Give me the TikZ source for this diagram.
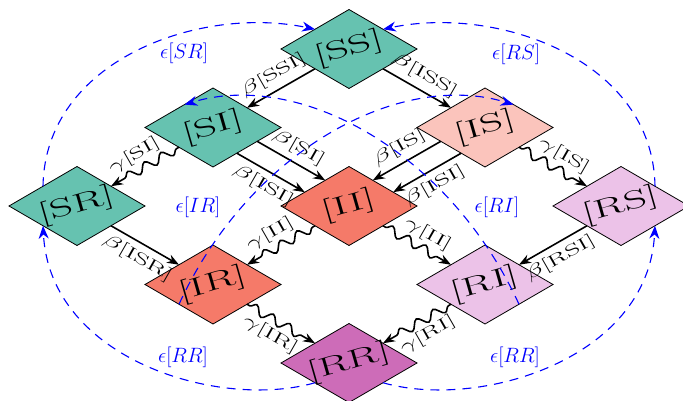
\documentclass[tikz,border=0pt]{standalone}
\usetikzlibrary{shapes.geometric,arrows.meta,decorations.pathmorphing,calc}
\definecolor{cS}{RGB}{102,194,176}
\definecolor{cIS}{RGB}{251,196,188}
\definecolor{cI}{RGB}{245,122,105}
\definecolor{cR}{RGB}{236,194,232}
\definecolor{cRR}{RGB}{205,108,184}
\newcommand\edgetxt[1]{\scalebox{1.75}[1]{#1}}
\newcommand\boxtxt[1]{\scalebox{1.75}[1]{#1}}
\tikzset{
  st/.style={diamond, draw=black, line width=0.8pt, minimum width=136pt, minimum height=79pt, inner sep=0pt, outer sep=0pt},
  dtext/.style={rotate=16, font=\fontsize{26}{26}\selectfont, inner sep=0pt},
  elab/.style={sloped, font=\fontsize{16.5}{16.5}\selectfont, inner sep=6pt},
  bedge/.style={line width=1.6pt, -{Stealth[length=12pt,width=9pt]}},
  wedge/.style={line width=1.6pt, -{Stealth[length=12pt,width=9pt]}, decorate,
    decoration={snake, amplitude=4.5pt, segment length=19pt, pre length=3pt, post length=11pt}},
  epsedge/.style={blue, dash pattern=on 9pt off 7pt, line width=1.1pt, -{Stealth[length=13pt,width=10pt]}},
  epslab/.style={blue, font=\fontsize{20}{20}\selectfont, inner sep=0pt}
}
\begin{document}
\begin{tikzpicture}[x=1pt,y=-1pt]
\useasboundingbox (0,0) rectangle (683,401);
% states
\node[st, fill=cS]  (SS) at (349,49) {};
\node[st, fill=cS]  (SI) at (213,127.5) {};
\node[st, fill=cIS] (IS) at (485,127.5) {};
\node[st, fill=cS]  (SR) at (77,206) {};
\node[st, fill=cI]  (II) at (349,206) {};
\node[st, fill=cR]  (RS) at (621,206) {};
\node[st, fill=cI]  (IR) at (213,284.5) {};
\node[st, fill=cR]  (RI) at (485,284.5) {};
\node[st, fill=cRR] (RR) at (349,363) {};
\node[dtext] (tSS) at (SS) {\boxtxt{[SS]}};
\node[dtext] (tSI) at (SI) {\boxtxt{[SI]}};
\node[dtext] (tIS) at (IS) {\boxtxt{[IS]}};
\node[dtext] (tSR) at (SR) {\boxtxt{[SR]}};
\node[dtext] (tII) at (II) {\boxtxt{[II]}};
\node[dtext] (tRS) at (RS) {\boxtxt{[RS]}};
\node[dtext] (tIR) at (IR) {\boxtxt{[IR]}};
\node[dtext] (tRI) at (RI) {\boxtxt{[RI]}};
\node[dtext] (tRR) at (RR) {\boxtxt{[RR]}};
% infection edges
\draw[bedge] ($(SS.west)!0.5!(SS.south)$) -- node[elab, above] (l1) {\edgetxt{$\beta$[SSI]}} ($(SI.north)!0.5!(SI.east)$);
\draw[bedge] ($(SS.east)!0.5!(SS.south)$) -- node[elab, above] (l2) {\edgetxt{$\beta$[ISS]}} ($(IS.north)!0.5!(IS.west)$);
\draw[bedge] ($(SI.east)!0.35!(SI.south)$) -- node[elab, above] (l3) {\edgetxt{$\beta$[SI]}} ($(II.west)!0.65!(II.north)$);
\draw[bedge] ($(SI.east)!0.65!(SI.south)$) -- node[elab, below] (l4) {\edgetxt{$\beta$[ISI]}} ($(II.west)!0.35!(II.north)$);
\draw[bedge] ($(IS.west)!0.35!(IS.south)$) -- node[elab, above] (l5) {\edgetxt{$\beta$[IS]}} ($(II.east)!0.65!(II.north)$);
\draw[bedge] ($(IS.west)!0.65!(IS.south)$) -- node[elab, below] (l6) {\edgetxt{$\beta$[ISI]}} ($(II.east)!0.35!(II.north)$);
\draw[bedge] ($(SR.east)!0.5!(SR.south)$) -- node[elab, below] (l7) {\edgetxt{$\beta$[ISR]}} ($(IR.north)!0.5!(IR.west)$);
\draw[bedge] ($(RS.west)!0.5!(RS.south)$) -- node[elab, below] (l8) {\edgetxt{$\beta$[RSI]}} ($(RI.north)!0.5!(RI.east)$);
% recovery edges
\draw[wedge] ($(SI.west)!0.5!(SI.south)$) -- node[elab, above, pos=0.55] (g1) {\edgetxt{$\gamma$[SI]}} ($(SR.north)!0.5!(SR.east)$);
\draw[wedge] ($(IS.east)!0.5!(IS.south)$) -- node[elab, above, pos=0.55] (g2) {\edgetxt{$\gamma$[IS]}} ($(RS.north)!0.5!(RS.west)$);
\draw[wedge] ($(II.west)!0.5!(II.south)$) -- node[elab, above, pos=0.55] (g3) {\edgetxt{$\gamma$[II]}} ($(IR.north)!0.5!(IR.east)$);
\draw[wedge] ($(II.east)!0.5!(II.south)$) -- node[elab, above, pos=0.55] (g4) {\edgetxt{$\gamma$[II]}} ($(RI.north)!0.5!(RI.west)$);
\draw[wedge] ($(IR.east)!0.5!(IR.south)$) -- node[elab, below, pos=0.45] (g5) {\edgetxt{$\gamma$[IR]}} ($(RR.north)!0.5!(RR.west)$);
\draw[wedge] ($(RI.west)!0.5!(RI.south)$) -- node[elab, below, pos=0.45] (g6) {\edgetxt{$\gamma$[RI]}} ($(RR.north)!0.5!(RR.east)$);
% waning immunity edges
\draw[epsedge] ($(SR.north)!0.5!(SR.west)$) .. controls (45,60) and (200,5) .. ($(SS.north)!0.5!(SS.west)$);
\draw[epsedge] ($(RS.north)!0.5!(RS.east)$) .. controls (653,60) and (498,5) .. ($(SS.north)!0.5!(SS.east)$);
\draw[epsedge] ($(RR.south)!0.5!(RR.west)$) .. controls (220,410) and (50,360) .. ($(SR.south)!0.5!(SR.west)$);
\draw[epsedge] ($(RR.south)!0.5!(RR.east)$) .. controls (478,410) and (648,360) .. ($(RS.south)!0.5!(RS.east)$);
\draw[epsedge] ($(IR.south)!0.5!(IR.west)$) .. controls (250,150) and (400,70) .. ($(IS.north)!0.42!(IS.east)$);
\draw[epsedge] ($(RI.south)!0.5!(RI.east)$) .. controls (448,150) and (298,70) .. ($(SI.north)!0.42!(SI.west)$);
\node[epslab] (e1) at (184,53) {$\epsilon[SR]$};
\node[epslab] (e2) at (516,54) {$\epsilon[RS]$};
\node[epslab] (e3) at (183,357) {$\epsilon[RR]$};
\node[epslab] (e4) at (515,357) {$\epsilon[RR]$};
\node[epslab] (e5) at (198,207) {$\epsilon[IR]$};
\node[epslab] (e6) at (497,207) {$\epsilon[RI]$};
\end{tikzpicture}
\end{document}
